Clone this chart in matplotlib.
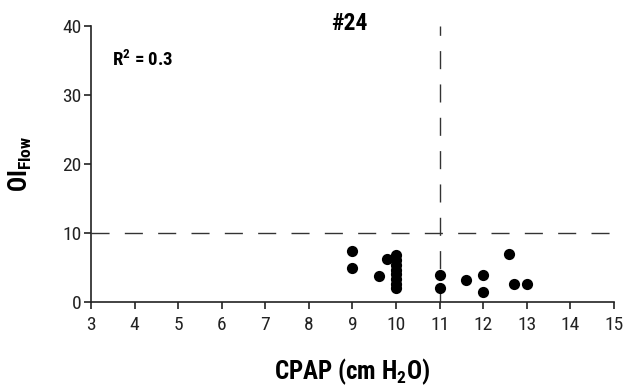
import matplotlib
matplotlib.use("Agg")
import matplotlib.pyplot as plt

FONT = 'Roboto Condensed'
plt.rcParams['font.family'] = [FONT, 'DejaVu Sans']
plt.rcParams['mathtext.fontset'] = 'custom'
plt.rcParams['mathtext.rm'] = FONT
plt.rcParams['mathtext.bf'] = FONT + ':bold'

cpap = [9.0, 9.0, 9.6, 9.8, 10.0, 10.0, 10.0, 10.0, 10.0, 10.0, 10.0, 10.0,
        11.0, 11.0, 11.6, 12.0, 12.0, 12.6, 12.7, 13.0]
oi = [7.4, 4.9, 3.8, 6.2, 6.8, 6.1, 5.4, 4.7, 4.0, 3.3, 2.6, 2.1,
      3.9, 2.1, 3.2, 3.9, 1.5, 7.0, 2.6, 2.6]
x_ticks = list(range(3, 16))
y_ticks = [0, 10, 20, 30, 40]
title = "#24"
r2_text = "R$^{\\mathbf{2}}$ = 0.3"

fig = plt.figure(figsize=(6.29, 3.87), dpi=100)
ax = fig.add_axes([0.1447, 0.2196, 0.8313, 0.7132])
ax.scatter(cpap, oi, s=65, color='black', zorder=3, clip_on=False, linewidths=0)
ax.axhline(10, color='#333333', lw=1.0, dashes=(13, 11))
ax.axvline(11, color='#333333', lw=1.0, dashes=(13, 11))
ax.set_xlim(3, 15)
ax.set_ylim(0, 40)
ax.set_xticks(x_ticks)
ax.set_yticks(y_ticks)
for s in ['top', 'right']:
    ax.spines[s].set_visible(False)
for s in ['left', 'bottom']:
    ax.spines[s].set_linewidth(1.2)
    ax.spines[s].set_color('#222222')
ax.tick_params(direction='out', length=5, width=1.2, labelsize=14, colors='#222222')
ax.tick_params(axis='x', pad=5)
ax.tick_params(axis='y', pad=2)
ax.set_xlabel("CPAP (cm H$_{\\mathbf{2}}$O)", fontsize=18, fontweight='bold', labelpad=16)
ax.set_ylabel("OI$_{\\mathbf{Flow}}$", fontsize=18, fontweight='bold', labelpad=20)
ax.text(8.92, 40.4, title, fontsize=17, fontweight='bold', ha='center', va='center')
ax.text(3.48, 35.2, r2_text, fontsize=13.5, fontweight='bold', ha='left', va='center')
fig.savefig("out.png", dpi=100)
